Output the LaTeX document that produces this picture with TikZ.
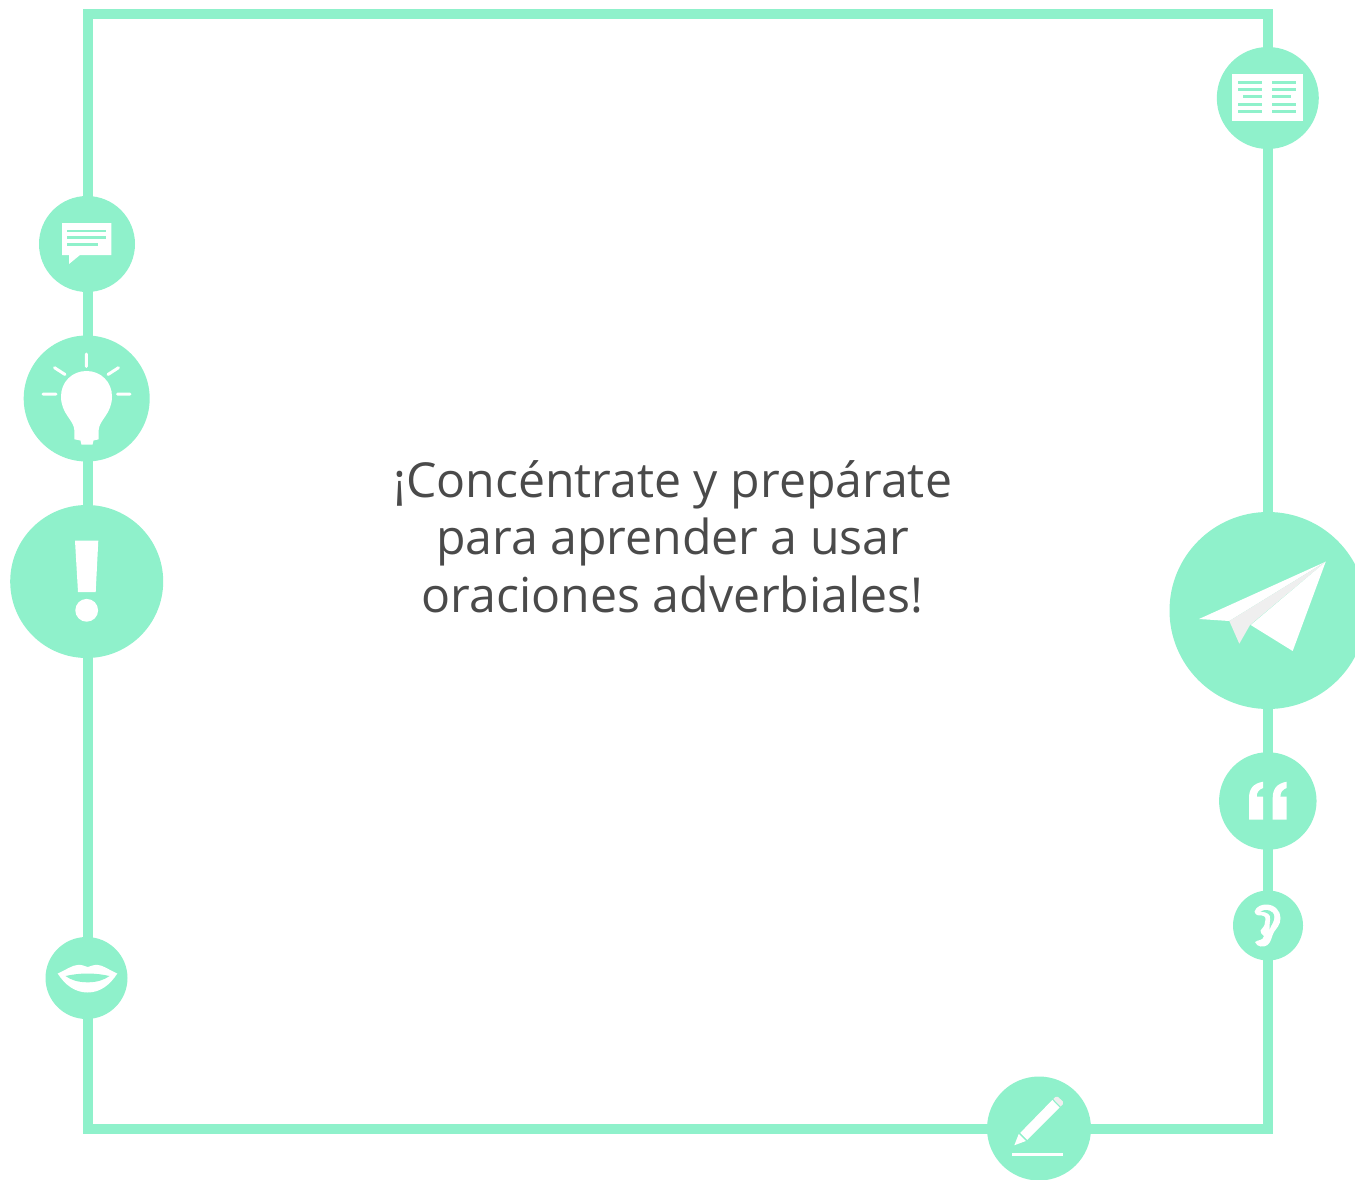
\documentclass[tikz,border=0pt]{standalone}
\usepackage{fontspec}
\setmainfont{Open Sans}
\definecolor{mint}{HTML}{8FF1CB}
\definecolor{ink}{HTML}{4A4A4A}
\definecolor{foldgray}{HTML}{EFEFEF}
\tikzset{
  frameline/.style={draw=mint,line width=10pt,line join=miter},
  badge/.style={circle,fill=mint,draw=none,inner sep=0pt,minimum size=#1},
  glyph/.style={fill=white,draw=none},
  gray glyph/.style={fill=foldgray,draw=none},
  cut/.style={fill=mint,draw=none},
  ray/.style={draw=white,line width=3pt,line cap=round},
  bookline/.style={draw=mint,line width=3pt},
  chatline/.style={draw=mint,line width=2.6pt},
}
\begin{document}
\begin{tikzpicture}[x=1pt,y=-1pt]
\useasboundingbox (0,0) rectangle (1355,1180);
\clip (0,0) rectangle (1355,1180);
% frame
\draw[frameline] (87.5,14.5) rectangle (1268,1129);
% badges
\node[badge=102pt] (book) at (1267.8,98) {};
\node[badge=96pt] (chat) at (87,244) {};
\node[badge=126pt] (bulb) at (86.7,398.5) {};
\node[badge=153pt] (excl) at (86.7,581.5) {};
\node[badge=82pt] (lips) at (86.5,978) {};
\node[badge=197pt] (plane) at (1268,610.5) {};
\node[badge=97.5pt] (quote) at (1267.8,801) {};
\node[badge=70pt] (ear) at (1268,925.5) {};
\node[badge=104pt] (pencil) at (1039,1128.5) {};
% text
\node[align=center,text=ink,font=\fontsize{48.2}{57.4}\selectfont,inner sep=0pt] (msg) at (672.7,536.8)
  {¡Concéntrate y prepárate\\para aprender a usar\\oraciones adverbiales!};
% book
\fill[glyph] (1232,74) rectangle (1303.3,121.3);
\draw[bookline] (1238,82.3)--(1262,82.3) (1238,89.3)--(1262,89.3) (1243,96.3)--(1262,96.3) (1238,104.3)--(1262,104.3) (1238,111.3)--(1262,111.3);
\draw[bookline] (1272,82.3)--(1296,82.3) (1272,89.3)--(1296,89.3) (1272,96.3)--(1291,96.3) (1272,104.3)--(1296,104.3) (1272,111.3)--(1296,111.3);
% chat
\fill[glyph] (62,223)--(111.3,223)--(111.3,255)--(80,255)--(69,264)--(69,255)--(62,255)--cycle;
\draw[chatline] (67,231)--(106,231) (67,237.3)--(106,237.3) (67,244.3)--(98,244.3);
% bulb
\draw[ray] (86.3,354)--(86.3,366.5) (54.5,367.7)--(65,374.5) (118.5,367.7)--(108,374.5) (43,394)--(56,394) (117.5,394)--(130,394);
\fill[glyph] (74.3,430) .. controls (74,420) and (61,414) .. (61,396.5)
  .. controls (61,382) and (72,371) .. (86.5,371)
  .. controls (101,371) and (112,382) .. (112,396.5)
  .. controls (112,414) and (99,420) .. (98.7,430)
  -- (98.7,439.3) -- (93.5,440.5) -- (92.5,444.7) -- (81.5,444.7) -- (80.5,440.5) -- (74.3,439.3) -- cycle;
% exclamation
\fill[glyph] (75,540.7)--(98.3,540.7)--(95.7,592)--(78,592)--cycle;
\fill[glyph] (86.7,610.3) circle[radius=11.4];
% lips
\fill[glyph] (57.7,973.5) .. controls (66,970) and (72,965) .. (78.7,964.8)
  .. controls (83,964.8) and (85,966.5) .. (87.7,967)
  .. controls (90,966.5) and (93,964.8) .. (97,964.8)
  .. controls (103,965) and (109,970) .. (117.3,973.5)
  .. controls (110,985) and (100,992.5) .. (87.7,992.5)
  .. controls (75,992.5) and (65,985) .. (57.7,973.5) -- cycle;
\fill[cut] (65.5,976) .. controls (72,974.5) and (80,973.5) .. (87.7,973.5)
  .. controls (95,973.5) and (103,974.5) .. (109.5,976)
  .. controls (104,980) and (97,982.3) .. (87.7,982.3)
  .. controls (78,982.3) and (71,980) .. (65.5,976) -- cycle;
% paper plane
\fill[glyph] (1325.7,561.7)--(1199,619)--(1229.3,621)--cycle;
\fill[gray glyph] (1325.7,561.7)--(1229.3,621)--(1239.3,643.7)--(1250,625)--cycle;
\fill[glyph] (1325.7,561.7)--(1250.7,625)--(1292.7,651)--cycle;
% quotes
\foreach \dx in {0,23.7}{
  \fill[glyph,xshift=\dx pt] (1249,819.7) -- (1263,819.7) -- (1263,796.5) -- (1256.7,796.5)
    .. controls (1256.7,792) and (1259,789.5) .. (1263,788) -- (1263,781.7)
    .. controls (1253,783.5) and (1249,789) .. (1249,798) -- cycle;
}
% ear
\fill[glyph] (1254.5,911.5) .. controls (1256.5,906) and (1262,904.5) .. (1266,904.5)
  .. controls (1275,904.5) and (1280.5,911) .. (1280.5,918)
  .. controls (1280.5,925) and (1276.5,928) .. (1274,932)
  .. controls (1271.5,936) and (1271.5,942) .. (1267.5,945)
  .. controls (1264,947.5) and (1257,947.5) .. (1255,942)
  .. controls (1258,939.5) and (1263,941) .. (1264,936)
  .. controls (1262,934) and (1260,933) .. (1260.5,930.5)
  .. controls (1262,928) and (1265,926.5) .. (1265,922)
  .. controls (1266,919) and (1266,916) .. (1262,915.5)
  .. controls (1259,915.5) and (1255.5,916) .. (1254.5,911.5) -- cycle;
\fill[cut] (1260.5,911.5) .. controls (1265,908.5) and (1274,909.5) .. (1274.3,917)
  .. controls (1274.5,921.5) and (1271,925) .. (1269.5,929.5)
  .. controls (1269,925) and (1271,920) .. (1270,916)
  .. controls (1268.5,912.5) and (1264,912) .. (1260.5,911.5) -- cycle;
% pencil
\fill[glyph] (1014.3,1145.3)--(1018.8,1133.8)--(1025.8,1141)--cycle;
\fill[glyph] (1020.3,1132.8)--(1052.3,1100)--(1059.5,1107.5)--(1027.2,1139.8)--cycle;
\fill[gray glyph] (1053.3,1099)--(1055.5,1097)--(1058,1096.8)--(1062.8,1101.5)--(1063,1104)--(1060.5,1106.5)--cycle;
\fill[glyph] (1012,1153)rectangle(1063,1155.6);
\end{tikzpicture}
\end{document}
